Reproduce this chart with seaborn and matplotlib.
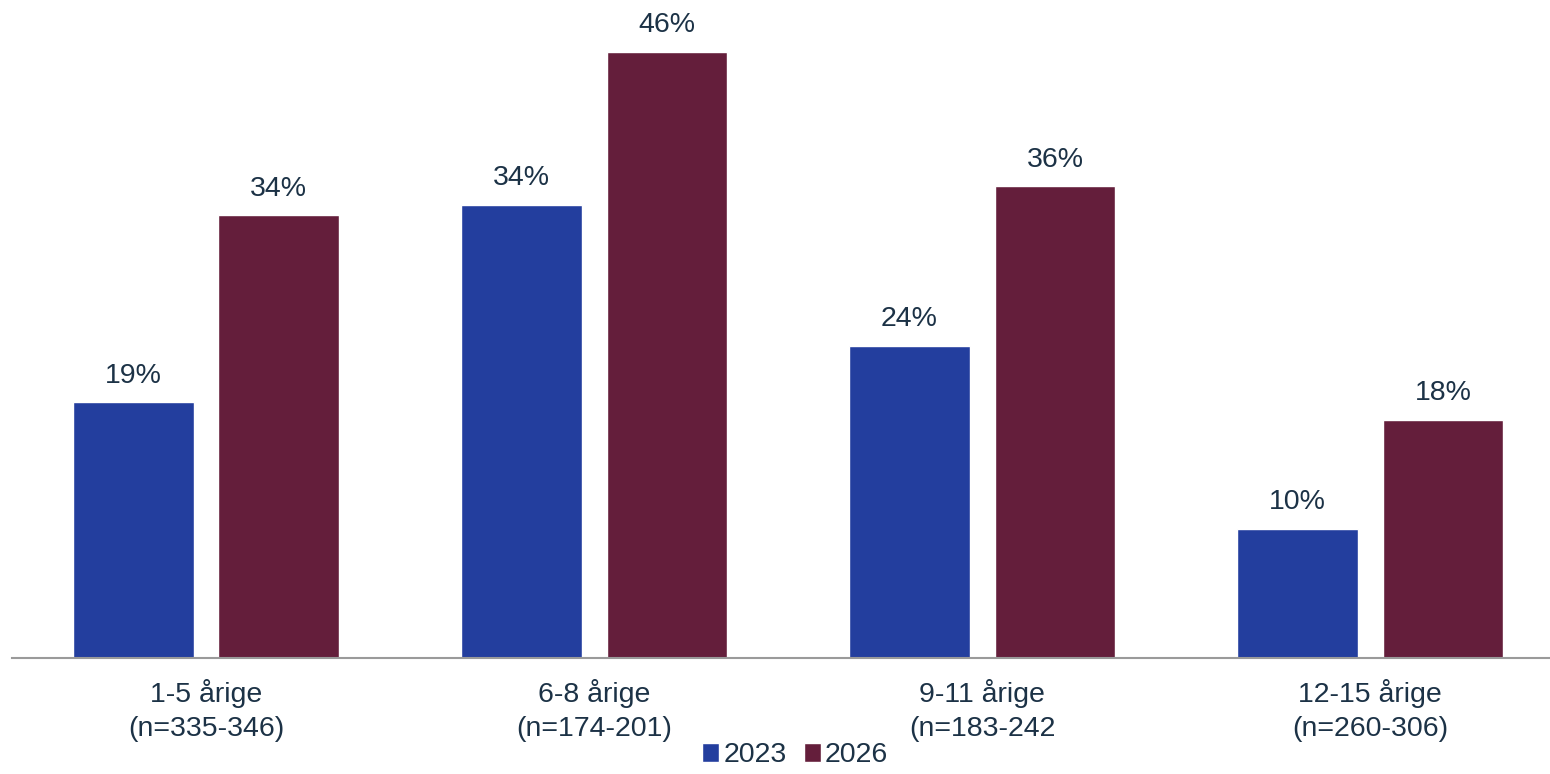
import pandas as pd
import matplotlib.pyplot as plt
import seaborn as sns

# Data
categories = ["1-5 årige\n(n=335-346)", "6-8 årige\n(n=174-201)",
              "9-11 årige\n(n=183-242", "12-15 årige\n(n=260-306)"]
years = ["2023", "2026"]
values_2023 = [19.4, 34.4, 23.7, 9.8]
values_2026 = [33.6, 46.0, 35.8, 18.1]

df = pd.DataFrame({
    "kategori": categories * 2,
    "år": [years[0]] * 4 + [years[1]] * 4,
    "andel": values_2023 + values_2026,
})

sns.set_style("white")
plt.rcParams['font.family'] = ['Liberation Sans', 'DejaVu Sans']
text_color = "#1C3246"
fs = 20.5

fig = plt.figure(figsize=(15.5, 7.74), dpi=100)
ax = fig.add_axes([12 / 1550, 116 / 774, 1538 / 1550, 648 / 774])

sns.barplot(data=df, x="kategori", y="andel", hue="år",
            palette=["#233E9E", "#641E3B"], saturation=1, width=0.75, gap=0.17,
            ax=ax, legend=True)

for cont in ax.containers:
    ax.bar_label(cont, labels=[f"{v:.0f}%" for v in cont.datavalues],
                 padding=10, fontsize=fs, color=text_color)

ax.set_xlim(-0.5, 3.463)
ax.set_ylim(0, 49.2)
ax.set_xlabel("")
ax.set_ylabel("")
ax.set_yticks([])
ax.tick_params(axis="x", length=0, pad=15, labelsize=fs, labelcolor=text_color)
for lbl in ax.get_xticklabels():
    lbl.set_linespacing(1.42)

for side in ["top", "right", "left"]:
    ax.spines[side].set_visible(False)
ax.spines["bottom"].set_color("#9A9A9A")
ax.spines["bottom"].set_linewidth(1.5)

ax.legend_.remove()
handles, labels = ax.get_legend_handles_labels()
leg = fig.legend(handles, labels, loc="lower center", bbox_to_anchor=(0.513, -0.026),
                 ncol=2, frameon=False, fontsize=fs, handlelength=0.6,
                 handleheight=0.6, handletextpad=0.15, columnspacing=0.6)
for t in leg.get_texts():
    t.set_color(text_color)

fig.savefig("out.png", dpi=100)
